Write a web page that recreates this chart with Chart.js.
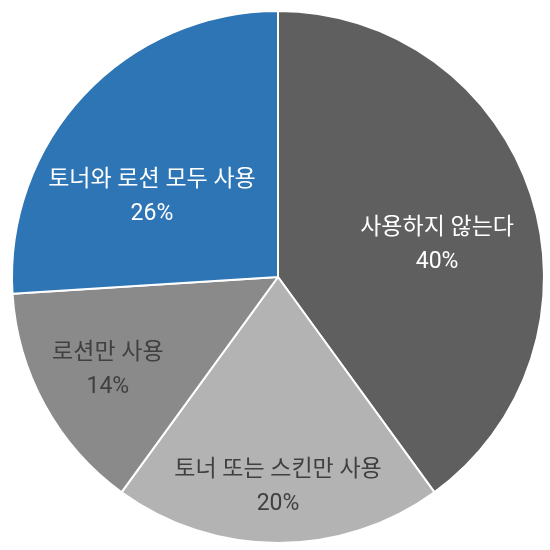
<!DOCTYPE html>
<html>
<head>
<meta charset="utf-8">
<script src="https://cdn.jsdelivr.net/npm/chart.js@4"></script>
<style>
html,body{margin:0;padding:0;background:#fff;}
#wrap{width:550px;height:550px;position:relative;}
</style>
</head>
<body>
<div id="wrap"><canvas id="c"></canvas></div>
<script>
const categories = ['사용하지 않는다', '토너 또는 스킨만 사용', '로션만 사용', '토너와 로션 모두 사용'];
const values = [40, 20, 14, 26];
const percentLabels = ['40%', '20%', '14%', '26%'];
const sliceColors = ['#5f5f5f', '#b3b3b3', '#8a8a8a', '#2e75b6'];
const labelColors = ['#ffffff', '#404040', '#404040', '#ffffff'];

// label placement: angle shift (deg) from slice mid-angle and radius fraction
const labelPlacement = [
  {shift: 6.6, r: 0.61},
  {shift: 0, r: 0.79},
  {shift: 0, r: 0.73},
  {shift: -11, r: 0.56}
];

const labelPlugin = {
  id: 'sliceLabels',
  afterDatasetsDraw(chart) {
    const ctx = chart.ctx;
    const meta = chart.getDatasetMeta(0);
    ctx.save();
    ctx.textAlign = 'center';
    ctx.textBaseline = 'middle';
    ctx.font = '23px Roboto, "Noto Sans CJK KR", sans-serif';
    meta.data.forEach((arc, i) => {
      const p = arc.getProps(['x','y','startAngle','endAngle','outerRadius'], true);
      const mid = (p.startAngle + p.endAngle) / 2 + labelPlacement[i].shift * Math.PI / 180;
      const rr = p.outerRadius * labelPlacement[i].r;
      const x = p.x + Math.cos(mid) * rr;
      const y = p.y + Math.sin(mid) * rr;
      ctx.fillStyle = labelColors[i];
      ctx.fillText(chart.data.labels[i], x, y - 17);
      ctx.fillText(percentLabels[i], x, y + 17);
    });
    ctx.restore();
  }
};

new Chart(document.getElementById('c'), {
  type: 'pie',
  data: {
    labels: categories,
    datasets: [{
      data: values,
      backgroundColor: sliceColors,
      borderColor: '#ffffff',
      borderWidth: 2,
      hoverOffset: 0
    }]
  },
  options: {
    responsive: true,
    maintainAspectRatio: false,
    animation: false,
    layout: {padding: {left: 11, top: 10, right: 5, bottom: 6}},
    plugins: {legend: {display: false}, tooltip: {enabled: false}}
  },
  plugins: [labelPlugin]
});
</script>
</body>
</html>
